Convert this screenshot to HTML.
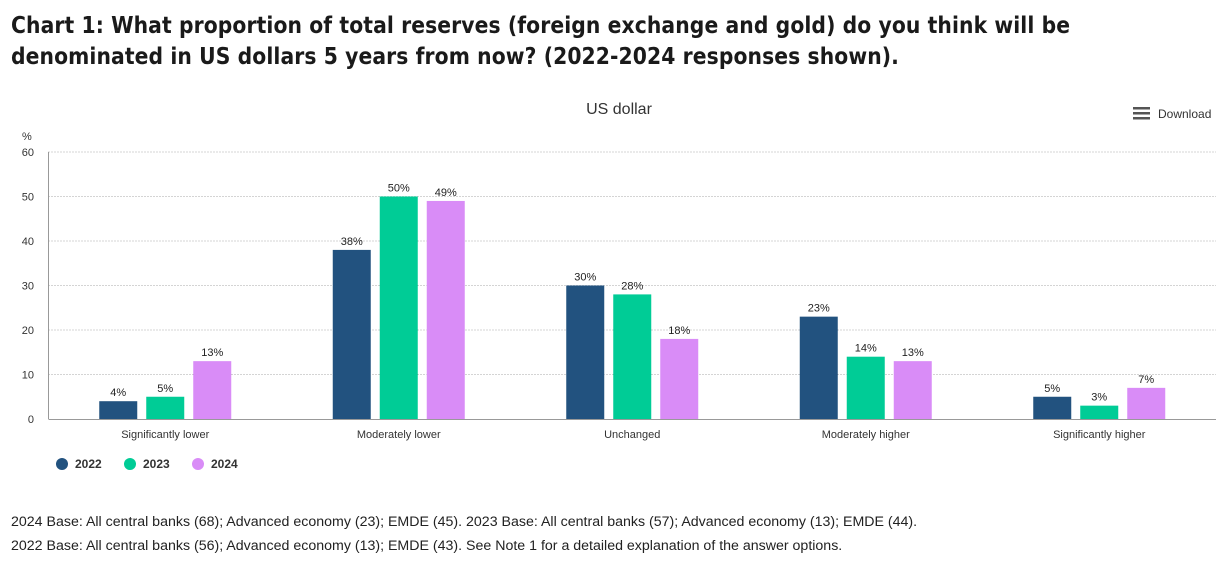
<!DOCTYPE html>
<html><head><meta charset="utf-8">
<style>
body{margin:0;background:#fff;width:1222px;height:566px;overflow:hidden;font-family:"Liberation Sans",sans-serif;}
.title{position:absolute;left:11px;top:11px;font-size:23px;font-weight:bold;color:#1a1a1a;line-height:31px;letter-spacing:0.1px;font-family:"DejaVu Sans","Liberation Sans",sans-serif;transform:scaleX(0.884);transform-origin:left top;white-space:nowrap}
.note{position:absolute;left:11px;font-size:14.2px;color:#222;white-space:nowrap}
</style></head><body>
<div class="title">Chart 1: What proportion of total reserves (foreign exchange and gold) do you think will be<br>denominated in US dollars 5 years from now? (2022-2024 responses shown).</div>
<svg id="chart" width="1222" height="566" style="position:absolute;left:0;top:0"></svg>
<div class="note" style="top:514px">2024 Base: All central banks (68); Advanced economy (23); EMDE (45). 2023 Base: All central banks (57); Advanced economy (13); EMDE (44).</div>
<div class="note" style="top:538px">2022 Base: All central banks (56); Advanced economy (13); EMDE (43). See Note 1 for a detailed explanation of the answer options.</div>
<script>
const categories=["Significantly lower","Moderately lower","Unchanged","Moderately higher","Significantly higher"];
const seriesNames=["2022","2023","2024"];
const v2022=[4,38,30,23,5];
const v2023=[5,50,28,14,3];
const v2024=[13,49,18,13,7];
const yTicks=[0,10,20,30,40,50,60];
const colors=["#22527f","#00cc96","#d98cf7"];
const NS="http://www.w3.org/2000/svg";
const svg=document.getElementById('chart');
function mk(t,a,txt){const e=document.createElementNS(NS,t);for(const k in a)e.setAttribute(k,a[k]);if(txt!=null)e.textContent=txt;svg.appendChild(e);return e;}
const L=48.5,R=1216,T=152,B=419;
const y=v=>B-(v/60)*(B-T);
const cw=(R-L)/categories.length;
const cx=i=>L+cw*(i+0.5);
let e;
e=mk('text',{x:619,y:114,'font-size':16,fill:'#333','text-anchor':'middle'},'US dollar');


e=mk('g',{});


[108,113,118].forEach(yy=>{const r=document.createElementNS(NS,'rect');r.setAttribute('x',1133);r.setAttribute('y',yy-1);r.setAttribute('width',17);r.setAttribute('height',2.5);r.setAttribute('fill','#555');e.appendChild(r);});
const dt=document.createElementNS(NS,'text');dt.setAttribute('x',1158);dt.setAttribute('y',118);dt.setAttribute('font-size',12);dt.setAttribute('fill','#333');dt.textContent='Download';e.appendChild(dt);
e=mk('text',{x:22,y:140,'font-size':11,fill:'#333'},'%');


yTicks.forEach(t=>{
  if(t>0){e=mk('line',{x1:L,x2:R,y1:y(t),y2:y(t),stroke:'#aaa','stroke-dasharray':'1,2'});
  
  }
  e=mk('text',{x:34,y:y(t)+4,'font-size':11,fill:'#333','text-anchor':'end'},String(t));
  
  
});
e=mk('line',{x1:L,x2:L,y1:T,y2:B,stroke:'#999'});


e=mk('line',{x1:L,x2:R,y1:B+0.5,y2:B+0.5,stroke:'#999'});


const series=[v2022,v2023,v2024];
const bw=38,off=47;
categories.forEach((c,i)=>{
  series.forEach((s,j)=>{
    const x=cx(i)+(j-1)*off-bw/2;
    e=mk('rect',{x:x,y:y(s[i]),width:bw,height:B-y(s[i]),fill:colors[j]});
    
    
    e=mk('text',{x:x+bw/2,y:y(s[i])-5,'font-size':11,fill:'#222','text-anchor':'middle'},s[i]+'%');
    
    
  });
  e=mk('text',{x:cx(i),y:438,'font-size':11,fill:'#333','text-anchor':'middle'},c);
  
  
});
seriesNames.forEach((n,j)=>{
  const lx=62+j*68;
  e=mk('circle',{cx:lx,cy:464,r:6,fill:colors[j]});
  
  
  e=mk('text',{x:lx+13,y:468,'font-size':12,'font-weight':'bold',fill:'#333'},n);
  
  
});
</script>
</body></html>
